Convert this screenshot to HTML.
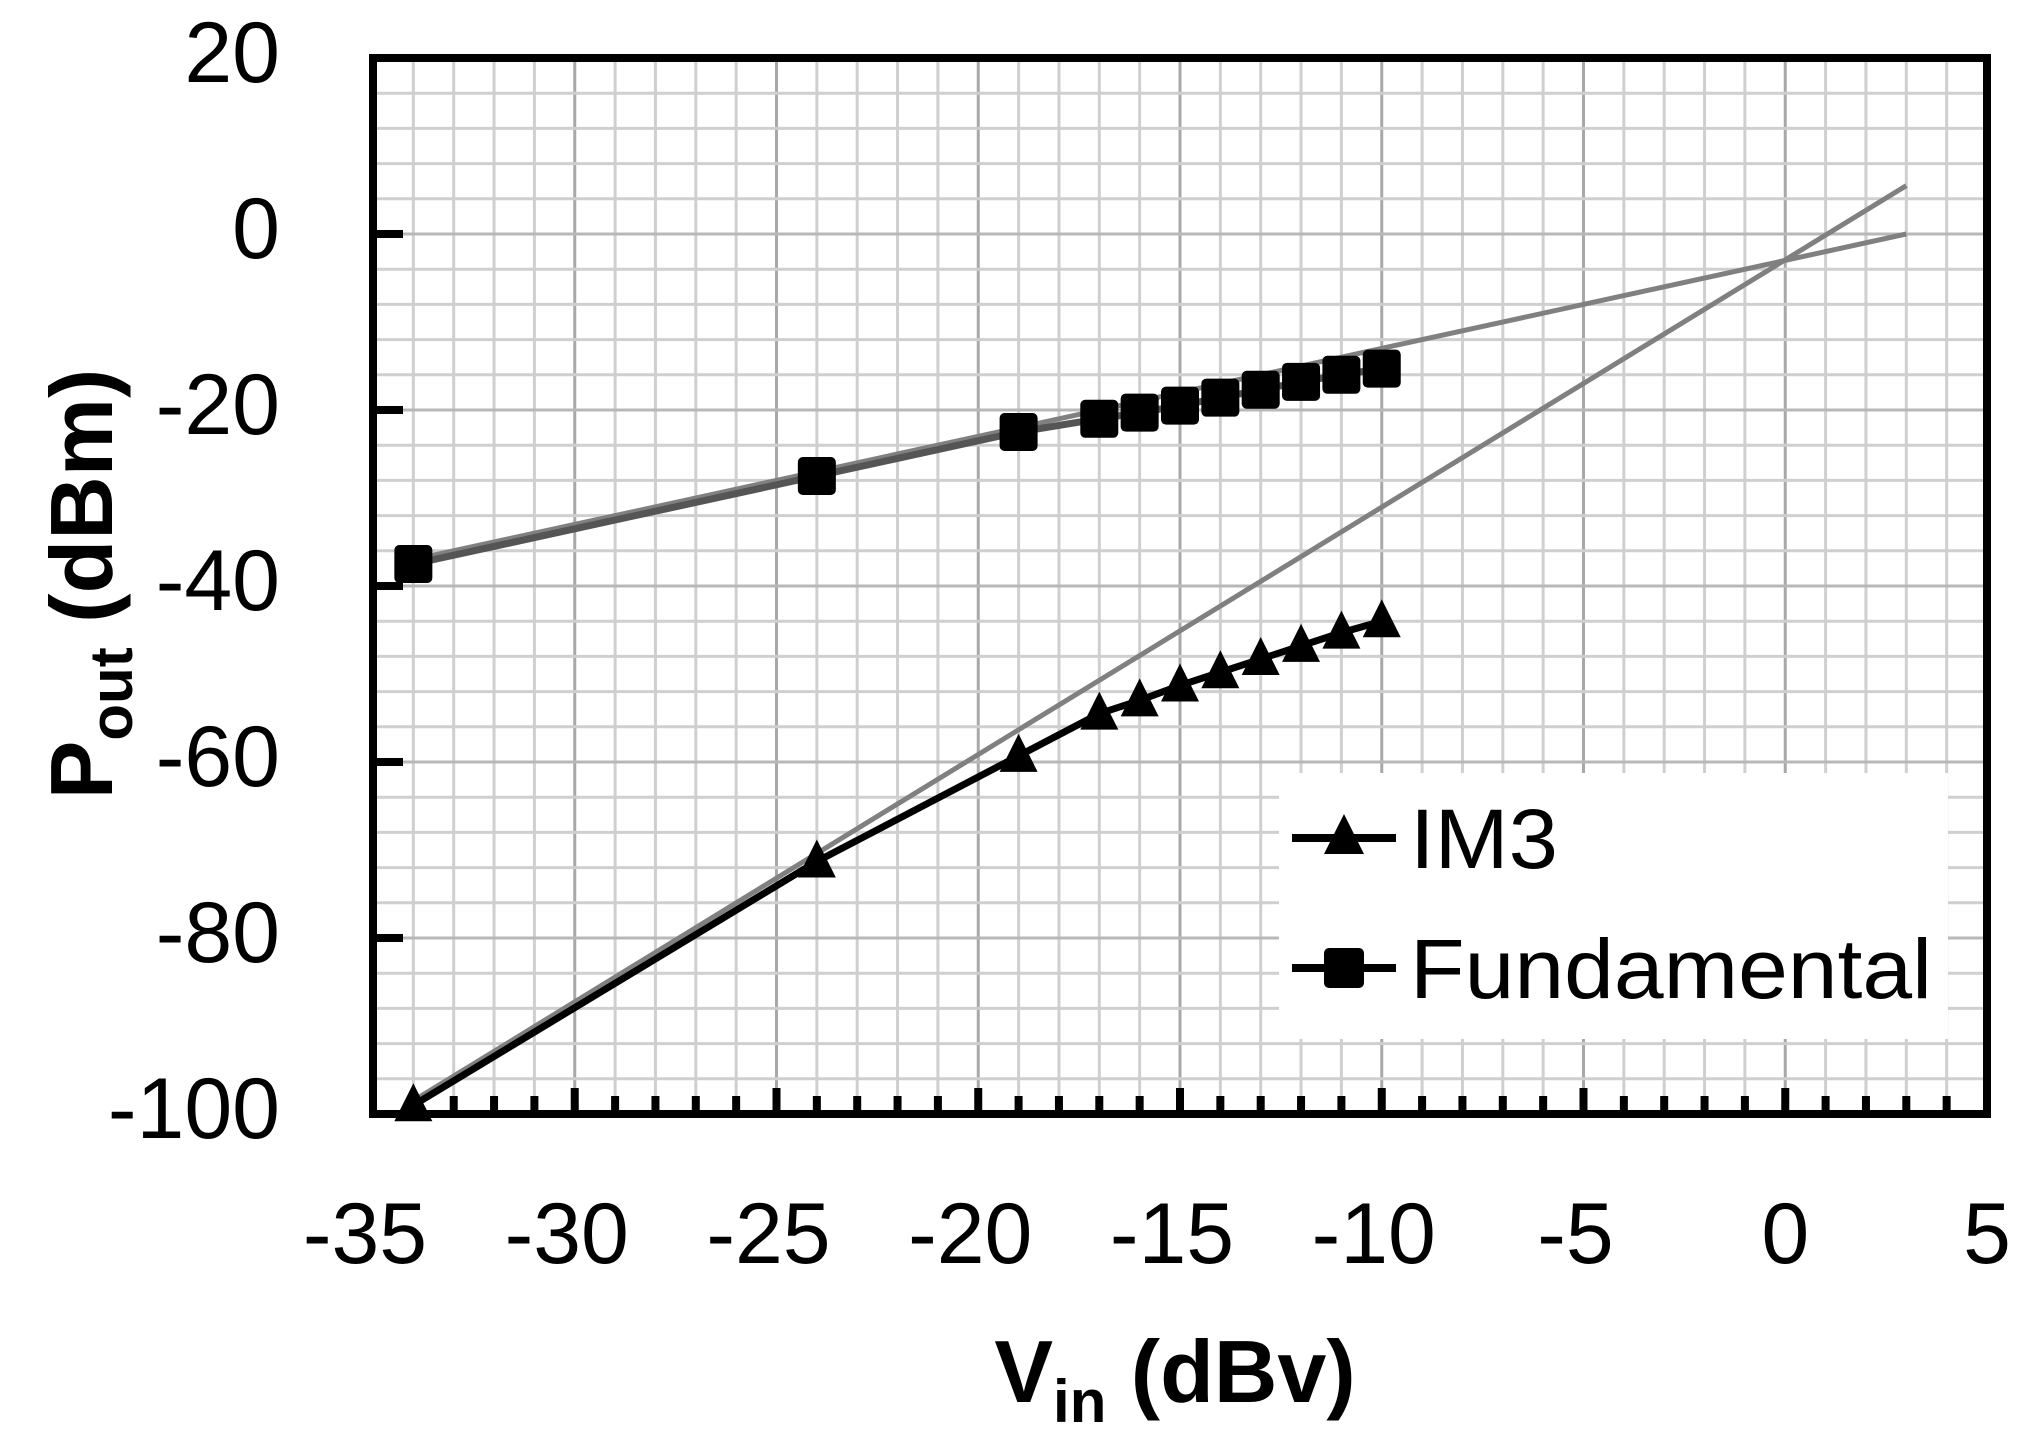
<!DOCTYPE html>
<html><head><meta charset="utf-8"><style>body{margin:0;background:#fff}svg{display:block}</style></head>
<body>
<svg id="s" width="2026" height="1448" xmlns="http://www.w3.org/2000/svg" font-family="Liberation Sans, sans-serif"></svg>
<script>
const L=373,R=1987,T=58,B=1114;
const X=v=>L+(v+35)*(R-L)/40, Y=p=>T+(20-p)*(B-T)/120;
let h='';
for(let v=-34;v<=4;v++){const x=X(v);h+=`<line x1="${x}" y1="${T}" x2="${x}" y2="${B}" stroke="${v%5==0?'#a8a8a8':'#cfcfcf'}" stroke-width="3"/>`;}
for(let p=16;p>=-96;p-=4){const y=Y(p);h+=`<line x1="${L}" y1="${y}" x2="${R}" y2="${y}" stroke="${p%20==0?'#b8b8b8':'#cfcfcf'}" stroke-width="3"/>`;}
h+=`<rect x="1279" y="773" width="669" height="266" fill="#fff"/>`;
h+=`<line x1="${X(-34)}" y1="${Y(-37)}" x2="${X(3)}" y2="${Y(0)}" stroke="#808080" stroke-width="5"/>`;
h+=`<line x1="${X(-34)}" y1="${Y(-98.5)}" x2="${X(3)}" y2="${Y(5.5)}" stroke="#808080" stroke-width="5"/>`;
const xs=[-34,-24,-19,-17,-16,-15,-14,-13,-12,-11,-10];
const fy=[-37.5,-27.5,-22.5,-21,-20.3,-19.5,-18.6,-17.7,-16.8,-16,-15.3];
const iy=[-99,-71.3,-59.3,-54.5,-53,-51.3,-49.8,-48.3,-46.8,-45.3,-44];
h+=`<polyline fill="none" stroke="#000" stroke-width="7" points="${xs.map((v,i)=>X(v)+','+Y(iy[i])).join(' ')}"/>`;
h+=`<polyline fill="none" stroke="#555" stroke-width="7" points="${xs.map((v,i)=>X(v)+','+Y(fy[i])).join(' ')}"/>`;
xs.forEach((v,i)=>{const x=X(v),y=Y(fy[i]);h+=`<rect x="${x-19}" y="${y-19}" width="38" height="38" rx="5" fill="#000"/>`;
const yy=Y(iy[i]);h+=`<polygon points="${x},${yy-22} ${x+19},${yy+16} ${x-19},${yy+16}" fill="#000"/>`;});
h+=`<rect x="${L}" y="${T}" width="${R-L}" height="${B-T}" fill="none" stroke="#000" stroke-width="8"/>`;
for(let v=-34;v<=4;v++){const x=X(v),len=v%5==0?26:18;h+=`<line x1="${x}" y1="${B}" x2="${x}" y2="${B-len}" stroke="#000" stroke-width="8"/>`;}
for(let p=0;p>=-80;p-=20){const y=Y(p);h+=`<line x1="${L}" y1="${y}" x2="${L+30}" y2="${y}" stroke="#000" stroke-width="8"/>`;}
for(let p=20;p>=-100;p-=20){h+=`<text x="280" y="${Y(p)+24}" font-size="86" text-anchor="end">${p}</text>`;}
for(let v=-35;v<=5;v+=5){h+=`<text x="${X(v)-(v<0?8:0)}" y="1263" font-size="86" text-anchor="middle">${v}</text>`;}
h+=`<line x1="1292" y1="838" x2="1396" y2="838" stroke="#000" stroke-width="8"/><polygon points="1344,814 1364,854 1324,854" fill="#000"/>`;
h+=`<text x="1410" y="868" font-size="84" textLength="148" lengthAdjust="spacingAndGlyphs">IM3</text>`;
h+=`<line x1="1292" y1="968" x2="1396" y2="968" stroke="#000" stroke-width="8"/><rect x="1324" y="948" width="40" height="40" rx="5" fill="#000"/>`;
h+=`<text x="1410" y="998" font-size="84" textLength="522" lengthAdjust="spacingAndGlyphs">Fundamental</text>`;
h+=`<text x="1175" y="1402" font-size="88" font-weight="bold" text-anchor="middle">V<tspan font-size="60" dy="20">in</tspan><tspan dy="-20"> (dBv)</tspan></text>`;
h+=`<text transform="translate(112,584) rotate(-90)" font-size="88" font-weight="bold" text-anchor="middle">P<tspan font-size="60" dy="20">out</tspan><tspan dy="-20"> (dBm)</tspan></text>`;
document.getElementById('s').innerHTML=h;
</script>
</body></html>
